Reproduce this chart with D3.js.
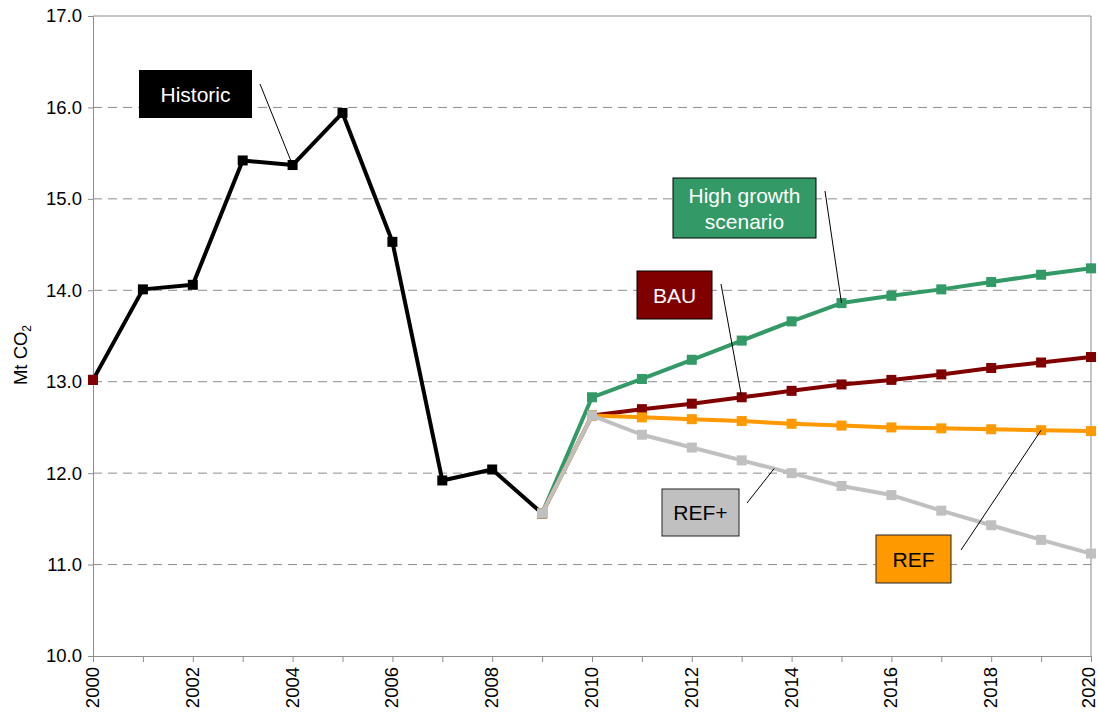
<!DOCTYPE html>
<html><head><meta charset="utf-8">
<script src="https://cdn.jsdelivr.net/npm/d3@7"></script>
<style>body{margin:0;background:#fff}svg{display:block;font-family:"Liberation Sans",Arial,sans-serif}</style>
</head><body><svg id="c" width="1098" height="712"></svg>
<script>
const histYears = [2000,2001,2002,2003,2004,2005,2006,2007,2008,2009];
const historic = [13.02,14.01,14.06,15.42,15.37,15.94,14.53,11.92,12.04,11.56];
const scenYears = [2009,2010,2011,2012,2013,2014,2015,2016,2017,2018,2019,2020];
const highGrowth = [11.56,12.83,13.03,13.24,13.45,13.66,13.86,13.94,14.01,14.09,14.17,14.24];
const bau = [11.56,12.63,12.70,12.76,12.83,12.90,12.97,13.02,13.08,13.15,13.21,13.27];
const ref = [11.56,12.63,12.61,12.59,12.57,12.54,12.52,12.50,12.49,12.48,12.47,12.46];
const refPlus = [11.56,12.63,12.42,12.28,12.14,12.00,11.86,11.76,11.59,11.43,11.27,11.12];
const yTicks = [10,11,12,13,14,15,16,17];
const xTickLabels = [2000,2002,2004,2006,2008,2010,2012,2014,2016,2018,2020];

const svg = d3.select("#c");
const L=93,R=1091,T=16,B=656;
const x = d3.scaleLinear().domain([2000,2020]).range([L,R]);
const y = d3.scaleLinear().domain([10,17]).range([B,T]);

// gridlines
svg.append("g").selectAll("line").data(yTicks.filter(d=>d>10&&d<17)).join("line")
  .attr("x1",L).attr("x2",R).attr("y1",d=>y(d)).attr("y2",d=>y(d))
  .attr("stroke","#8c8c8c").attr("stroke-width",1).attr("stroke-dasharray","9,6");
// plot border top/right
svg.append("line").attr("x1",L).attr("x2",R).attr("y1",T).attr("y2",T).attr("stroke","#8c8c8c");
svg.append("line").attr("x1",R).attr("x2",R).attr("y1",T).attr("y2",B).attr("stroke","#8c8c8c");

// axes
const yAxis = svg.append("g").attr("transform",`translate(${L},0)`)
  .call(d3.axisLeft(y).tickValues(yTicks).tickFormat(d3.format(".1f")).tickSize(5).tickPadding(6));
yAxis.attr("font-size",18.5).attr("font-family","Liberation Sans, Arial, sans-serif");
yAxis.select(".domain").attr("stroke","#8c8c8c");
yAxis.selectAll(".tick line").attr("stroke","#8c8c8c");
yAxis.selectAll("text").attr("fill","#000");

const xAxis = svg.append("g").attr("transform",`translate(0,${B})`)
  .call(d3.axisBottom(x).tickValues(d3.range(2000,2021)).tickFormat(d=>xTickLabels.includes(d)?d:"").tickSize(6));
xAxis.attr("font-size",18.5).attr("font-family","Liberation Sans, Arial, sans-serif");
xAxis.select(".domain").attr("stroke","#8c8c8c");
xAxis.selectAll(".tick line").attr("stroke","#8c8c8c");
xAxis.selectAll("text").attr("fill","#000")
  .attr("transform","rotate(-90)").attr("text-anchor","end").attr("x",-11)
  .attr("y",d=>d===2020?-3:-1).attr("dy","0.35em");

// y title
const yt = svg.append("text").attr("transform","translate(27,355) rotate(-90)").attr("text-anchor","middle")
  .attr("font-size",18.5).attr("fill","#000");
yt.append("tspan").text("Mt CO");
yt.append("tspan").text("2").attr("font-size",12).attr("dy",4);

const line = d3.line().x(d=>x(d[0])).y(d=>y(d[1]));
function series(years, vals, color, width, mcolor){
  const pts = years.map((yr,i)=>[yr,vals[i]]);
  svg.append("path").datum(pts).attr("d",line).attr("fill","none").attr("stroke",color)
    .attr("stroke-width",width).attr("stroke-linejoin","round");
  svg.append("g").selectAll("rect").data(pts).join("rect")
    .attr("x",d=>x(d[0])-5).attr("y",d=>y(d[1])-5).attr("width",10).attr("height",10)
    .attr("fill",mcolor||color);
}
series(histYears, historic, "#000000", 4);
svg.append("rect").attr("x",x(2000)-5).attr("y",y(historic[0])-5).attr("width",10).attr("height",10).attr("fill","#800000");
series(scenYears, highGrowth, "#339966", 4);
series(scenYears, bau, "#800000", 4);
series(scenYears, ref, "#ff9900", 4);
series(scenYears, refPlus, "#c0c0c0", 4);

// labels
const labels = [
  {lines:["Historic"], x0:139,y0:70,x1:252,y1:118, fill:"#000000", tc:"#fff", border:"none", lx1:260,ly1:84, year:2004, val:historic[4]},
  {lines:["High growth","scenario"], x0:673,y0:178,x1:816,y1:238, fill:"#339966", tc:"#fff", border:"#000", lx1:825,ly1:191, year:2015, val:highGrowth[6]},
  {lines:["BAU"], x0:637,y0:271,x1:712,y1:319, fill:"#800000", tc:"#fff", border:"#000", lx1:721,ly1:284, year:2013, val:bau[4]},
  {lines:["REF+"], x0:662,y0:489,x1:739,y1:536, fill:"#c0c0c0", tc:"#000", border:"#222", lx1:747,ly1:503, year:2013.65, val:12.05},
  {lines:["REF"], x0:876,y0:535,x1:951,y1:583, fill:"#ff9900", tc:"#000", border:"#222", lx1:961,ly1:550, year:2019, val:ref[10]}
];
labels.forEach(l=>{
  svg.append("line").attr("x1",l.lx1).attr("y1",l.ly1).attr("x2",x(l.year)).attr("y2",y(l.val))
    .attr("stroke","#000").attr("stroke-width",1);
  svg.append("rect").attr("x",l.x0).attr("y",l.y0).attr("width",l.x1-l.x0).attr("height",l.y1-l.y0)
    .attr("fill",l.fill).attr("stroke",l.border==="none"?null:l.border).attr("stroke-width",1);
  const cx=(l.x0+l.x1)/2, cy=(l.y0+l.y1)/2, lh=26;
  l.lines.forEach((t,i)=>{
    svg.append("text").attr("x",cx).attr("y",cy+(i-(l.lines.length-1)/2)*lh).attr("dy","0.36em")
      .attr("text-anchor","middle").attr("font-size",21).attr("fill",l.tc).text(t);
  });
});
</script></body></html>
